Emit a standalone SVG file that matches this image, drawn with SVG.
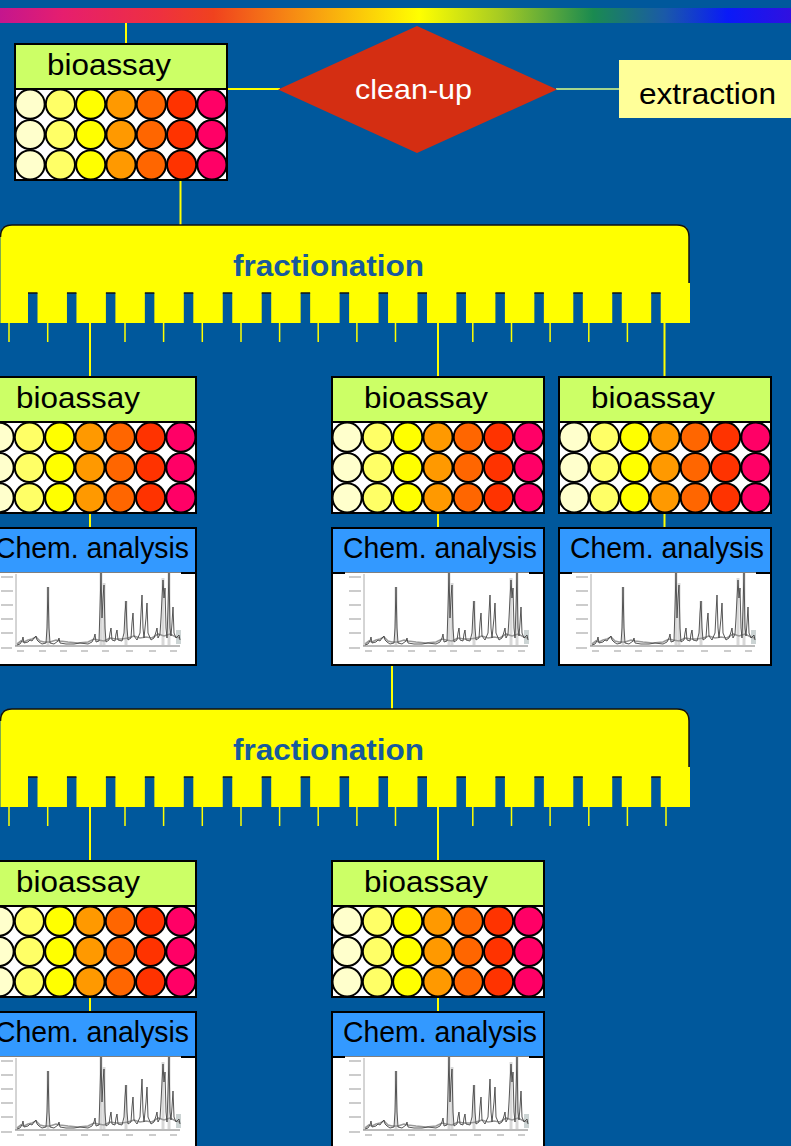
<svg xmlns="http://www.w3.org/2000/svg" xmlns:xlink="http://www.w3.org/1999/xlink" width="791" height="1146" viewBox="0 0 791 1146">
<style>
.lbl{font-family:"Liberation Sans",Arial,sans-serif;font-size:30px;fill:#000}
.frt{font-family:"Liberation Sans",Arial,sans-serif;font-size:29px;font-weight:bold;fill:#175A9C}
.hdrB{fill:#CCFF66;stroke:#000;stroke-width:2}
.hdrC{fill:#3399FF;stroke:#000;stroke-width:2}
.plate{fill:#fff;stroke:#000;stroke-width:2}
.well{stroke:#000;stroke-width:2}
.conn{stroke:#FFFF00;stroke-width:2;fill:none}
.tick{stroke:#FFFF00;stroke-width:1.5}
.slot{fill:#00589C}
.slottop{stroke:#111;stroke-width:1.5}
</style>
<defs>
<linearGradient id="rainbow" x1="0" y1="0" x2="1" y2="0">
<stop offset="0" stop-color="#C4168E"/>
<stop offset="0.08" stop-color="#E61E6E"/>
<stop offset="0.2" stop-color="#EE3040"/>
<stop offset="0.27" stop-color="#F0421E"/>
<stop offset="0.4" stop-color="#F8A010"/>
<stop offset="0.53" stop-color="#FFFF00"/>
<stop offset="0.63" stop-color="#A8CC22"/>
<stop offset="0.75" stop-color="#1A8A50"/>
<stop offset="0.84" stop-color="#1A5AA8"/>
<stop offset="0.92" stop-color="#0A1AF8"/>
<stop offset="1" stop-color="#3010E0"/>
</linearGradient>
<g id="wellrow">
<circle class="well" cx="15.1" r="14.6" fill="#FFFFCC"/>
<circle class="well" cx="45.4" r="14.6" fill="#FFFF66"/>
<circle class="well" cx="75.7" r="14.6" fill="#FFFF00"/>
<circle class="well" cx="106" r="14.6" fill="#FF9900"/>
<circle class="well" cx="136.3" r="14.6" fill="#FF6600"/>
<circle class="well" cx="166.6" r="14.6" fill="#FF3300"/>
<circle class="well" cx="196.9" r="14.6" fill="#FF0066"/>
</g>
<g id="bioBody">
<rect class="hdrB" x="0" y="0" width="212" height="45"/>
<rect class="plate" x="0" y="45" width="212" height="91"/>
<use xlink:href="#wellrow" href="#wellrow" y="60.2"/>
<use xlink:href="#wellrow" href="#wellrow" y="90.5"/>
<use xlink:href="#wellrow" href="#wellrow" y="120.8"/>
</g>
<g id="chemBody">
<rect class="plate" x="0" y="0" width="212" height="137"/>
<rect class="hdrC" x="0" y="0" width="212" height="45"/>
<rect x="13" y="44.5" width="184" height="82" fill="#fff"/>
<g stroke="#bbb" stroke-width="1.5">
<line x1="17" y1="49" x2="29" y2="49"/><line x1="17" y1="63" x2="29" y2="63"/><line x1="17" y1="77" x2="29" y2="77"/><line x1="17" y1="91" x2="29" y2="91"/><line x1="17" y1="105" x2="29" y2="105"/><line x1="17" y1="120" x2="28" y2="120"/>
<line x1="33" y1="123" x2="40" y2="123"/><line x1="55" y1="123" x2="62" y2="123"/><line x1="76" y1="123" x2="83" y2="123"/><line x1="97" y1="123" x2="104" y2="123"/><line x1="118" y1="123" x2="125" y2="123"/><line x1="142" y1="123" x2="149" y2="123"/><line x1="165" y1="123" x2="172" y2="123"/><line x1="186" y1="123" x2="193" y2="123"/>
</g>
<line x1="32" y1="46" x2="32" y2="118" stroke="#aaa" stroke-width="1"/>
<line x1="31" y1="118" x2="196" y2="118" stroke="#777" stroke-width="1"/>
<g stroke="#d8d8d8" stroke-width="3">
<line x1="64" y1="59" x2="64" y2="117"/><line x1="117" y1="45" x2="117" y2="117"/><line x1="120" y1="55" x2="120" y2="117"/><line x1="179" y1="50" x2="179" y2="117"/><line x1="185" y1="45" x2="185" y2="117"/><line x1="142" y1="73" x2="142" y2="117"/>
</g>
<rect x="192" y="102" width="5" height="14" fill="#ccd4d4"/>
<path fill="none" stroke="#999" stroke-width="1.6" d="M33,116 L37,113 L40,114 L44,112 L48,111 L52,109 L56,113 L60,114 L66,114 L72,112 L76,113 L84,114 L94,115 L104,114 L110,111 L114,112 L120,113 L126,110 L132,111 L138,111 L144,110 L150,108 L156,110 L162,109 L168,110 L174,106 L180,108 L186,106 L192,109 L196,110"/>
<path fill="none" stroke="#444" stroke-width="0.9" d="M33,117 L36,116 L38,113 L39,109 L40,115 L44,114 L46,112 L48,113 L50,110 L52,108 L53,112 L55,114 L58,116 L62,115 L63,100 L64,59 L65,100 L66,115 L70,116 L74,113 L75,110 L76,115 L82,116 L90,116 L96,115 L104,116 L108,114 L110,110 L111,106 L112,114 L115,113 L116,80 L117,45 L118,90 L119,70 L120,57 L121,100 L122,114 L125,112 L126,105 L127,100 L128,112 L131,113 L132,106 L133,102 L134,112 L138,113 L140,105 L141,85 L142,73 L143,100 L144,112 L147,110 L148,95 L149,85 L150,108 L153,112 L156,105 L157,85 L158,67 L159,100 L160,110 L162,90 L163,75 L164,105 L167,112 L170,110 L172,104 L173,100 L174,110 L176,106 L177,90 L178,70 L179,52 L180,70 L181,60 L182,100 L183,110 L184,80 L185,45 L186,100 L187,108 L188,95 L189,79 L190,105 L192,110 L194,108 L195,107 L196,112"/>
</g>
<g id="fracBody">
<path fill="#FFFF00" d="M0.5,98 V10 Q0.5,0 10.5,0 H679 Q689,0 689,10 V58 H690 V98 Z"/>
<path fill="none" stroke="#111" stroke-width="1.5" d="M0.5,12 Q0.5,0 12,0 H677 Q689,0 689,12 V58"/>
<g class="slot">
<rect x="28" y="68" width="9.5" height="30.5"/><rect x="66.95" y="68" width="9.5" height="30.5"/><rect x="105.9" y="68" width="9.5" height="30.5"/><rect x="144.85" y="68" width="9.5" height="30.5"/><rect x="183.8" y="68" width="9.5" height="30.5"/><rect x="222.75" y="68" width="9.5" height="30.5"/><rect x="261.7" y="68" width="9.5" height="30.5"/><rect x="300.65" y="68" width="9.5" height="30.5"/><rect x="339.6" y="68" width="9.5" height="30.5"/><rect x="378.55" y="68" width="9.5" height="30.5"/><rect x="417.5" y="68" width="9.5" height="30.5"/><rect x="456.45" y="68" width="9.5" height="30.5"/><rect x="495.4" y="68" width="9.5" height="30.5"/><rect x="534.35" y="68" width="9.5" height="30.5"/><rect x="573.3" y="68" width="9.5" height="30.5"/><rect x="612.25" y="68" width="9.5" height="30.5"/><rect x="651.2" y="68" width="9.5" height="30.5"/>
</g>
<g class="slottop">
<line x1="28" y1="68" x2="37.5" y2="68"/><line x1="66.95" y1="68" x2="76.45" y2="68"/><line x1="105.9" y1="68" x2="115.4" y2="68"/><line x1="144.85" y1="68" x2="154.35" y2="68"/><line x1="183.8" y1="68" x2="193.3" y2="68"/><line x1="222.75" y1="68" x2="232.25" y2="68"/><line x1="261.7" y1="68" x2="271.2" y2="68"/><line x1="300.65" y1="68" x2="310.15" y2="68"/><line x1="339.6" y1="68" x2="349.1" y2="68"/><line x1="378.55" y1="68" x2="388.05" y2="68"/><line x1="417.5" y1="68" x2="427" y2="68"/><line x1="456.45" y1="68" x2="465.95" y2="68"/><line x1="495.4" y1="68" x2="504.9" y2="68"/><line x1="534.35" y1="68" x2="543.85" y2="68"/><line x1="573.3" y1="68" x2="582.8" y2="68"/><line x1="612.25" y1="68" x2="621.75" y2="68"/><line x1="651.2" y1="68" x2="660.7" y2="68"/>
</g>
<g class="tick">
<line x1="9" y1="98" x2="9" y2="117"/><line x1="47.7" y1="98" x2="47.7" y2="117"/><line x1="125" y1="98" x2="125" y2="117"/><line x1="163.6" y1="98" x2="163.6" y2="117"/><line x1="202.3" y1="98" x2="202.3" y2="117"/><line x1="241" y1="98" x2="241" y2="117"/><line x1="279.6" y1="98" x2="279.6" y2="117"/><line x1="318.2" y1="98" x2="318.2" y2="117"/><line x1="356.9" y1="98" x2="356.9" y2="117"/><line x1="395.5" y1="98" x2="395.5" y2="117"/><line x1="472.8" y1="98" x2="472.8" y2="117"/><line x1="511.5" y1="98" x2="511.5" y2="117"/><line x1="550.1" y1="98" x2="550.1" y2="117"/><line x1="588.8" y1="98" x2="588.8" y2="117"/><line x1="627.4" y1="98" x2="627.4" y2="117"/>
</g>
</g>
</defs>
<rect x="0" y="0" width="791" height="1146" fill="#00589C"/>
<rect x="0" y="8" width="791" height="15" fill="url(#rainbow)"/>
<g id="connectors">
<line class="conn" x1="126" y1="23" x2="126" y2="44"/>
<line class="conn" x1="227" y1="89" x2="280" y2="89"/>
<line x1="556" y1="89" x2="620" y2="89" stroke="#DDFF88" stroke-width="1.5"/>
<line class="conn" x1="180.5" y1="180" x2="180.5" y2="226"/>
<line class="conn" x1="90" y1="323" x2="90" y2="377"/>
<line class="conn" x1="438" y1="323" x2="438" y2="377"/>
<line class="conn" x1="664.5" y1="323" x2="664.5" y2="377"/>
<line class="conn" x1="90" y1="513" x2="90" y2="528"/>
<line class="conn" x1="438" y1="513" x2="438" y2="528"/>
<line class="conn" x1="664.5" y1="513" x2="664.5" y2="528"/>
<line class="conn" x1="392" y1="665" x2="392" y2="710"/>
<line class="conn" x1="90" y1="807" x2="90" y2="861"/>
<line class="conn" x1="438" y1="807" x2="438" y2="861"/>
<line class="conn" x1="90" y1="997" x2="90" y2="1012"/>
<line class="conn" x1="438" y1="997" x2="438" y2="1012"/>
</g>
<g id="extraction">
<rect x="619" y="60" width="190" height="58" fill="#FFFF99"/>
<text class="lbl" x="639" y="104" textLength="137" lengthAdjust="spacingAndGlyphs">extraction</text>
</g>
<g id="cleanup">
<polygon points="278,89.5 417,26 557,89.5 417,153" fill="#D42E12"/>
<text class="lbl" x="355" y="99" style="font-size:28px;fill:#fff" textLength="117" lengthAdjust="spacingAndGlyphs">clean-up</text>
</g>
<g id="bioassay-top" transform="translate(15,44)">
<use xlink:href="#bioBody" href="#bioBody"/>
<text class="lbl" x="32" y="31" textLength="124" lengthAdjust="spacingAndGlyphs">bioassay</text>
</g>
<g id="fractionation-1" transform="translate(0,225)">
<use xlink:href="#fracBody" href="#fracBody"/>
<text class="frt" x="233" y="51" textLength="191" lengthAdjust="spacingAndGlyphs">fractionation</text>
</g>
<g id="bioassay-2a" transform="translate(-16,377)">
<use xlink:href="#bioBody" href="#bioBody"/>
<text class="lbl" x="32" y="31" textLength="124" lengthAdjust="spacingAndGlyphs">bioassay</text>
</g>
<g id="bioassay-2b" transform="translate(332,377)">
<use xlink:href="#bioBody" href="#bioBody"/>
<text class="lbl" x="32" y="31" textLength="124" lengthAdjust="spacingAndGlyphs">bioassay</text>
</g>
<g id="bioassay-2c" transform="translate(559,377)">
<use xlink:href="#bioBody" href="#bioBody"/>
<text class="lbl" x="32" y="31" textLength="124" lengthAdjust="spacingAndGlyphs">bioassay</text>
</g>
<g id="chem-2a" transform="translate(-16,528)">
<use xlink:href="#chemBody" href="#chemBody"/>
<text class="lbl" x="11" y="30" textLength="194" lengthAdjust="spacingAndGlyphs">Chem. analysis</text>
</g>
<g id="chem-2b" transform="translate(332,528)">
<use xlink:href="#chemBody" href="#chemBody"/>
<text class="lbl" x="11" y="30" textLength="194" lengthAdjust="spacingAndGlyphs">Chem. analysis</text>
</g>
<g id="chem-2c" transform="translate(559,528)">
<use xlink:href="#chemBody" href="#chemBody"/>
<text class="lbl" x="11" y="30" textLength="194" lengthAdjust="spacingAndGlyphs">Chem. analysis</text>
</g>
<g id="fractionation-2" transform="translate(0,709)">
<use xlink:href="#fracBody" href="#fracBody"/>
<line class="tick" x1="666" y1="98" x2="666" y2="117"/>
<text class="frt" x="233" y="51" textLength="191" lengthAdjust="spacingAndGlyphs">fractionation</text>
</g>
<g id="bioassay-3a" transform="translate(-16,861)">
<use xlink:href="#bioBody" href="#bioBody"/>
<text class="lbl" x="32" y="31" textLength="124" lengthAdjust="spacingAndGlyphs">bioassay</text>
</g>
<g id="bioassay-3b" transform="translate(332,861)">
<use xlink:href="#bioBody" href="#bioBody"/>
<text class="lbl" x="32" y="31" textLength="124" lengthAdjust="spacingAndGlyphs">bioassay</text>
</g>
<g id="chem-3a" transform="translate(-16,1012)">
<use xlink:href="#chemBody" href="#chemBody"/>
<text class="lbl" x="11" y="30" textLength="194" lengthAdjust="spacingAndGlyphs">Chem. analysis</text>
</g>
<g id="chem-3b" transform="translate(332,1012)">
<use xlink:href="#chemBody" href="#chemBody"/>
<text class="lbl" x="11" y="30" textLength="194" lengthAdjust="spacingAndGlyphs">Chem. analysis</text>
</g>
</svg>
